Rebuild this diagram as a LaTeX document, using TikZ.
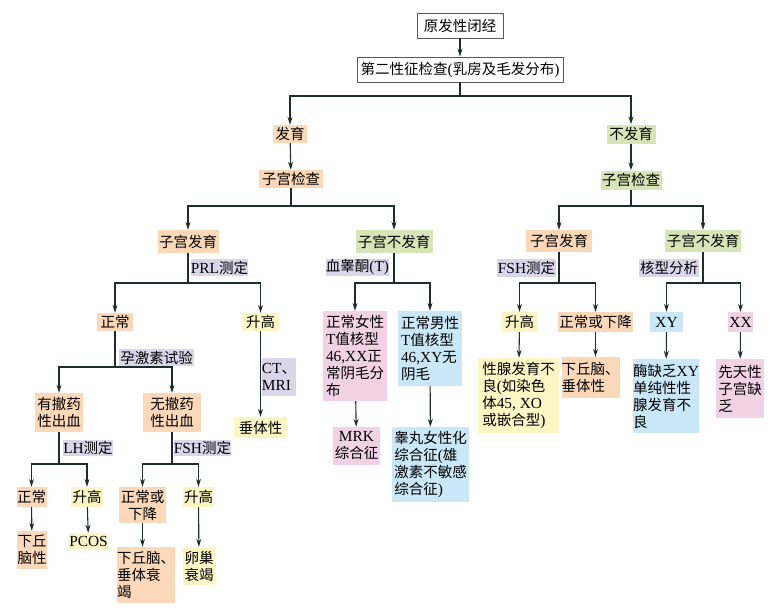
\documentclass[tikz,border=0pt]{standalone}
\usepackage{fontspec}
\setmainfont{Noto Sans CJK SC}
\newfontfamily\lat[Scale=1.06]{Liberation Serif}
\newcommand\la[1]{{\lat #1}}
\usetikzlibrary{arrows.meta}
\definecolor{peach}{HTML}{FBD8B8}
\definecolor{leaf}{HTML}{D6E4B6}
\definecolor{lav}{HTML}{D9D6EA}
\definecolor{lemon}{HTML}{FCF5C4}
\definecolor{rose}{HTML}{F0D2E4}
\definecolor{sky}{HTML}{C9E7F6}
\definecolor{linec}{HTML}{1E2C2C}
\begin{document}
\begin{tikzpicture}[x=1pt,y=-1pt,
  base/.style={inner sep=0pt, align=center, font=\fontsize{14.5pt}{17pt}\selectfont},
  wh/.style 2 args={minimum width=#1, minimum height=#2},
  frame/.style={base, draw=black!65, fill=white, line width=0.8pt},
  pc/.style={base, fill=peach}, gr/.style={base, fill=leaf}, pu/.style={base, fill=lav},
  ye/.style={base, fill=lemon}, pk/.style={base, fill=rose}, bl/.style={base, fill=sky},
  conn/.style={draw=linec, line width=1.1pt},
  arr/.style={conn, -{Stealth[length=8pt,width=5pt]}}]
\useasboundingbox (0,0) rectangle (778,610);

% branch levels
\coordinate (b1) at (0,96);
\coordinate (b2) at (0,206);
\coordinate (b3) at (0,283);
\coordinate (b4) at (0,367);
\coordinate (b5) at (0,464);

% top
\node[frame, wh={86}{25}] (n1) at (460,25.5) {原发性闭经};
\node[frame, wh={206}{25}] (n2) at (460,69.5) {第二性征检查\la{(}乳房及毛发分布\la{)}};

\node[pc, wh={34}{18}] (fy) at (290,134) {发育};
\node[gr, wh={49}{19}] (bfy) at (631,134) {不发育};
\node[pc, wh={64}{18}] (zg1) at (291,179) {子宫检查};
\node[gr, wh={61}{19}] (zg2) at (631,180) {子宫检查};

\node[pc, wh={61}{23}] (zfL) at (188,241.5) {子宫发育};
\node[gr, wh={77}{23}] (zbM) at (394,241.5) {子宫不发育};
\node[pc, wh={66}{22}] (zfR) at (559,241) {子宫发育};
\node[gr, wh={76}{22}] (zbR) at (703,241) {子宫不发育};

% labels
\node[pu, wh={57}{17}] (l1) at (219.5,267.5) {\la{PRL}测定};
\node[pu, wh={63}{17}] (l2) at (357.5,267.5) {血睾酮\la{(T)}};
\node[pu, wh={59}{18}] (l3) at (526.5,268) {\la{FSH}测定};
\node[pu, wh={60}{18}] (l4) at (669,268) {核型分析};

% row 3
\node[pc, wh={36}{18}] (zc1) at (115,322) {正常};
\node[ye, wh={37}{18}] (sg1) at (260.5,322) {升高};
\node[pk, wh={64}{90}, align=left] (nv) at (355,356) {正常女性\\\la{T}值核型\\\la{46,XX}正\\常阴毛分\\布};
\node[bl, wh={64}{75}, align=left] (nm) at (430,348.5) {正常男性\\\la{T}值核型\\\la{46,XY}无\\阴毛};
\node[ye, wh={37}{20}] (sg2) at (519.5,322) {升高};
\node[pc, wh={75}{20}] (zx) at (595.5,322) {正常或下降};
\node[bl, wh={33}{20}] (xy) at (666.5,322) {\la{XY}};
\node[pk, wh={25}{20}] (xx) at (740.5,322) {\la{XX}};

\node[pu, wh={75}{17}] (l5) at (156.5,357.5) {孕激素试验};
\node[pu, wh={32}{38}, align=left] (l6) at (279,377) {\la{CT}、\\\la{MRI}};

% row 4
\node[pc, wh={48}{39}] (ycx) at (59,412.5) {有撤药\\性出血};
\node[pc, wh={58}{39}] (wcx) at (172,412.5) {无撤药\\性出血};
\node[ye, wh={53}{21}] (ctg) at (260.5,427.5) {垂体性};
\node[pk, wh={47}{38}] (mrk) at (356.5,446) {\la{MRK}\\综合征};
\node[bl, wh={77}{75}, align=left] (gw) at (430.5,464.5) {睾丸女性化\\综合征\la{(}雄\\激素不敏感\\综合征\la{)}};
\node[ye, wh={81}{75}, align=left] (xxl) at (518.5,395.5) {性腺发育不\\良\la{(}如染色\\体\la{45, XO}\\或嵌合型\la{)}};
\node[pc, wh={57}{41}, align=left] (qn) at (590.5,377.5) {下丘脑、\\垂体性};
\node[bl, wh={66}{74}, align=left] (mq) at (666,396) {酶缺乏\la{XY}\\单纯性性\\腺发育不\\良};
\node[pk, wh={48}{59}, align=left] (xt) at (740,388.5) {先天性\\子宫缺\\乏};

\node[pu, wh={50}{16}] (l7) at (88,448) {\la{LH}测定};
\node[pu, wh={57}{16}] (l8) at (202.5,448) {\la{FSH}测定};

% row 5
\node[pc, wh={30}{20}] (zc2) at (31.5,497) {正常};
\node[ye, wh={32}{20}] (sg3) at (87,497) {升高};
\node[pc, wh={47}{36}] (zx2) at (142.5,505) {正常或\\下降};
\node[ye, wh={31}{20}] (sg4) at (198.5,497) {升高};

% row 6
\node[pc, wh={30}{38}] (qnx) at (32,550) {下丘\\脑性};
\node[ye, wh={39}{16}] (pcos) at (88.5,541) {\la{PCOS}};
\node[pc, wh={54}{56}, align=left] (qns) at (146,575) {下丘脑、\\垂体衰\\竭};
\node[ye, wh={32}{38}] (lc) at (199,566) {卵巢\\衰竭};

% connectors
\draw[arr] (n1) -- (n2);
\draw[arr] (n2.south) -- (n2.south |- b1) -| (fy.north);
\draw[arr] (n2.south |- b1) -| (bfy.north);
\draw[arr] (fy) -- (zg1);
\draw[arr] (bfy) -- (zg2);

\draw[arr] (zg1.south) -- (zg1.south |- b2) -| (zfL.north);
\draw[arr] (zg1.south |- b2) -| (zbM.north);
\draw[arr] (zg2.south) -- (zg2.south |- b2) -| (zfR.north);
\draw[arr] (zg2.south |- b2) -| (zbR.north);

\draw[arr] (zfL.south) -- (zfL.south |- b3) -| (zc1.north);
\draw[arr] (zfL.south |- b3) -| (sg1.north);
\draw[arr] (zbM.south) -- (zbM.south |- b3) -| (nv.north);
\draw[arr] (zbM.south |- b3) -| (nm.north);
\draw[arr] (zfR.south) -- (zfR.south |- b3) -| (sg2.north);
\draw[arr] (zfR.south |- b3) -| (zx.north);
\draw[arr] (zbR.south) -- (zbR.south |- b3) -| (xy.north);
\draw[arr] (zbR.south |- b3) -| (xx.north);

\draw[arr] (zc1.south) -- (zc1.south |- b4) -| (ycx.north);
\draw[arr] (zc1.south |- b4) -| (wcx.north);
\draw[arr] (sg1) -- (ctg);
\draw[arr] (nv) -- (mrk);
\draw[arr] (nm) -- (gw);
\draw[arr] (sg2) -- (xxl);
\draw[arr] (zx.south) -- (zx.south |- qn.north);
\draw[arr] (xy) -- (mq);
\draw[arr] (xx) -- (xt);

\draw[arr] (ycx.south) -- (ycx.south |- b5) -| (zc2.north);
\draw[arr] (ycx.south |- b5) -| (sg3.north);
\draw[arr] (wcx.south) -- (wcx.south |- b5) -| (zx2.north);
\draw[arr] (wcx.south |- b5) -| (sg4.north);

\draw[arr] (zc2) -- (qnx);
\draw[arr] (sg3) -- (pcos);
\draw[arr] (zx2.south) -- (zx2.south |- qns.north);
\draw[arr] (sg4) -- (lc);
\end{tikzpicture}
\end{document}
